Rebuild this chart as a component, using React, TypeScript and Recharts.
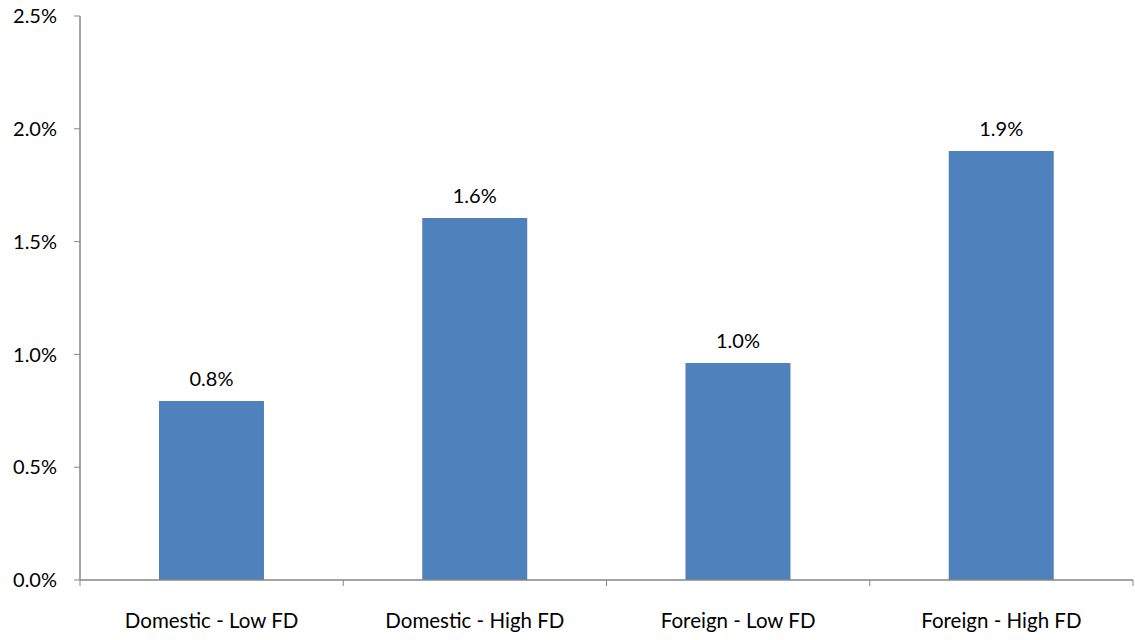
import { Bar, BarChart, LabelList, XAxis, YAxis } from "recharts";

const categories = [
  "Domestic - Low FD",
  "Domestic - High FD",
  "Foreign - Low FD",
  "Foreign - High FD",
];
const shares = [0.793, 1.605, 0.962, 1.902];
const yTicks = [0, 0.5, 1, 1.5, 2, 2.5];

const data = categories.map((name, i) => ({ name, value: shares[i] }));

const FONT = "Lato, 'Open Sans', sans-serif";
const AXIS = "#868686";

// category tick: label in the middle, tick marks at the band edges
function EdgeTick(props: any) {
  const { x, y, payload, index, visibleTicksCount } = props;
  const half = payload.offset ?? 0;
  const base = y - 33;
  return (
    <g>
      <line x1={x - half} x2={x - half} y1={base} y2={base + 6} stroke={AXIS} />
      {index === visibleTicksCount - 1 && (
        <line x1={x + half} x2={x + half} y1={base} y2={base + 6} stroke={AXIS} />
      )}
      <text
        x={x}
        y={y}
        dy="0.71em"
        textAnchor="middle"
        fill="#000"
        fontSize={20.5}
        fontFamily={FONT}
      >
        {payload.value}
      </text>
    </g>
  );
}

export default function App() {
  return (
    <div style={{ position: "absolute", left: 0, top: 0, background: "#fff" }}>
      <BarChart
        width={1135}
        height={640}
        data={data}
        margin={{ top: 16, right: 2, bottom: 0, left: 0 }}
        barCategoryGap="30%"
      >
        <XAxis
          dataKey="name"
          height={60}
          axisLine={{ stroke: AXIS, strokeWidth: 1.5 }}
          tickLine={false}
          tickSize={6}
          tickMargin={27}
          tick={<EdgeTick />}
          interval={0}
        />
        <YAxis
          width={80}
          domain={[0, 2.5]}
          ticks={yTicks}
          interval={0}
          axisLine={{ stroke: AXIS, strokeWidth: 1.5 }}
          tickLine={{ stroke: AXIS }}
          tickSize={6}
          tickMargin={17}
          tickFormatter={(v: number) => `${v.toFixed(1)}%`}
          tick={{ fill: "#000", fontSize: 20, fontFamily: FONT }}
        />
        <Bar dataKey="value" fill="#4F81BD" isAnimationActive={false}>
          <LabelList
            dataKey="value"
            position="top"
            offset={15}
            formatter={(v: any) => `${Number(v).toFixed(1)}%`}
            style={{ fill: "#000", fontSize: 20, fontFamily: FONT }}
          />
        </Bar>
      </BarChart>
    </div>
  );
}
